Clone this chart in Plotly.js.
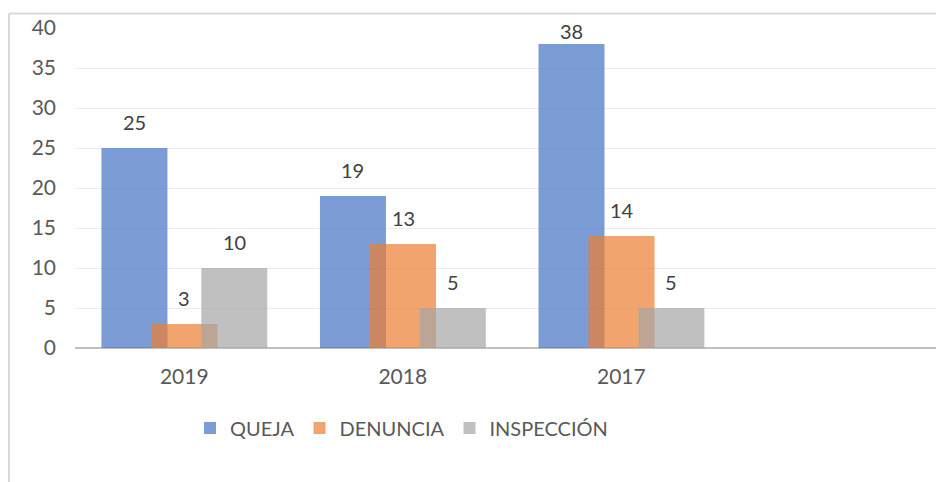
<!DOCTYPE html>
<html>
<head>
<meta charset="utf-8">
<script src="https://cdn.plot.ly/plotly-3.0.1.min.js"></script>
<style>
html,body{margin:0;padding:0;background:#fff;}
#chart{width:936px;height:482px;}
</style>
</head>
<body>
<div id="chart"></div>
<script>
const categories = ['2019', '2018', '2017'];
const seriesNames = ['QUEJA', 'DENUNCIA', 'INSPECCIÓN'];
const queja = [25, 19, 38];
const denuncia = [3, 13, 14];
const inspeccion = [10, 5, 5];
const yTicks = [0, 5, 10, 15, 20, 25, 30, 35, 40];

const seriesValues = [queja, denuncia, inspeccion];
const colors = ['rgba(68,114,196,0.7)', 'rgba(237,125,49,0.7)', 'rgba(165,165,165,0.7)'];
const barWidth = 0.302;
const offsets = [-0.379, -0.150, 0.078];
const yMax = 40;

const M = {l: 75, r: 0, t: 28, b: 134};
const W = 936, H = 482;
const pw = W - M.l - M.r, ph = H - M.t - M.b;
const px = v => (v - M.l) / pw;
const py = v => 1 - (v - M.t) / ph;

const idx = categories.map((c, i) => i);
const traces = seriesValues.map((vals, s) => ({
  type: 'bar',
  name: seriesNames[s],
  x: idx,
  y: vals,
  width: barWidth,
  offset: offsets[s],
  marker: {color: colors[s], line: {width: 0}},
  hoverinfo: 'x+y+name'
}));

// data labels: placed above the bar, kept inside the chart area near the top
const baseShift = 12, gapAbove = 17, textH = 15, minTop = 25;
const annotations = [];
seriesValues.forEach((vals, s) => {
  vals.forEach((v, i) => {
    const barTop = M.t + ph * (1 - v / yMax);
    const textTop = barTop - gapAbove - textH;
    const shift = textTop < minTop ? baseShift - (minTop - textTop) : baseShift;
    annotations.push({
      x: i + offsets[s] + barWidth / 2,
      y: v,
      xref: 'x', yref: 'y',
      text: String(v),
      showarrow: false,
      yanchor: 'bottom',
      xanchor: 'center',
      yshift: shift,
      font: {family: 'Lato, sans-serif', size: 20, color: '#404040'}
    });
  });
});

const layout = {
  width: W, height: H,
  margin: M,
  paper_bgcolor: '#ffffff',
  plot_bgcolor: '#ffffff',
  barmode: 'overlay',
  showlegend: true,
  font: {family: 'Lato, sans-serif', color: '#595959'},
  xaxis: {
    type: 'linear',
    range: [-0.5, 3.44],
    tickmode: 'array',
    tickvals: idx,
    ticktext: categories,
    showgrid: false,
    zeroline: false,
    showline: false,
    ticks: '',
    tickfont: {family: 'Lato, sans-serif', size: 21, color: '#595959'},
    ticklabelstandoff: 14,
    fixedrange: true
  },
  yaxis: {
    range: [0, yMax],
    tickmode: 'array',
    tickvals: yTicks,
    showgrid: true,
    gridcolor: '#ebebeb',
    gridwidth: 1,
    zeroline: true,
    zerolinecolor: '#bfbfbf',
    zerolinewidth: 2.5,
    showline: false,
    ticks: '',
    tickfont: {family: 'Lato, sans-serif', size: 21, color: '#595959'},
    ticklabelstandoff: 18,
    fixedrange: true
  },
  legend: {
    orientation: 'h',
    x: px(190), xanchor: 'left',
    y: py(428), yanchor: 'middle',
    font: {family: 'Lato, sans-serif', size: 20, color: '#595959'},
    bgcolor: 'rgba(0,0,0,0)',
    itemclick: false
  },
  annotations: annotations,
  shapes: [
    {type: 'line', xref: 'paper', yref: 'paper', x0: px(9), x1: px(940), y0: py(13.5), y1: py(13.5), line: {color: '#d9d9d9', width: 2}, layer: 'below'},
    {type: 'line', xref: 'paper', yref: 'paper', x0: px(9), x1: px(9), y0: py(13.5), y1: py(490), line: {color: '#d9d9d9', width: 2}, layer: 'below'}
  ]
};

Plotly.newPlot('chart', traces, layout, {displayModeBar: false, staticPlot: true});
</script>
</body>
</html>
